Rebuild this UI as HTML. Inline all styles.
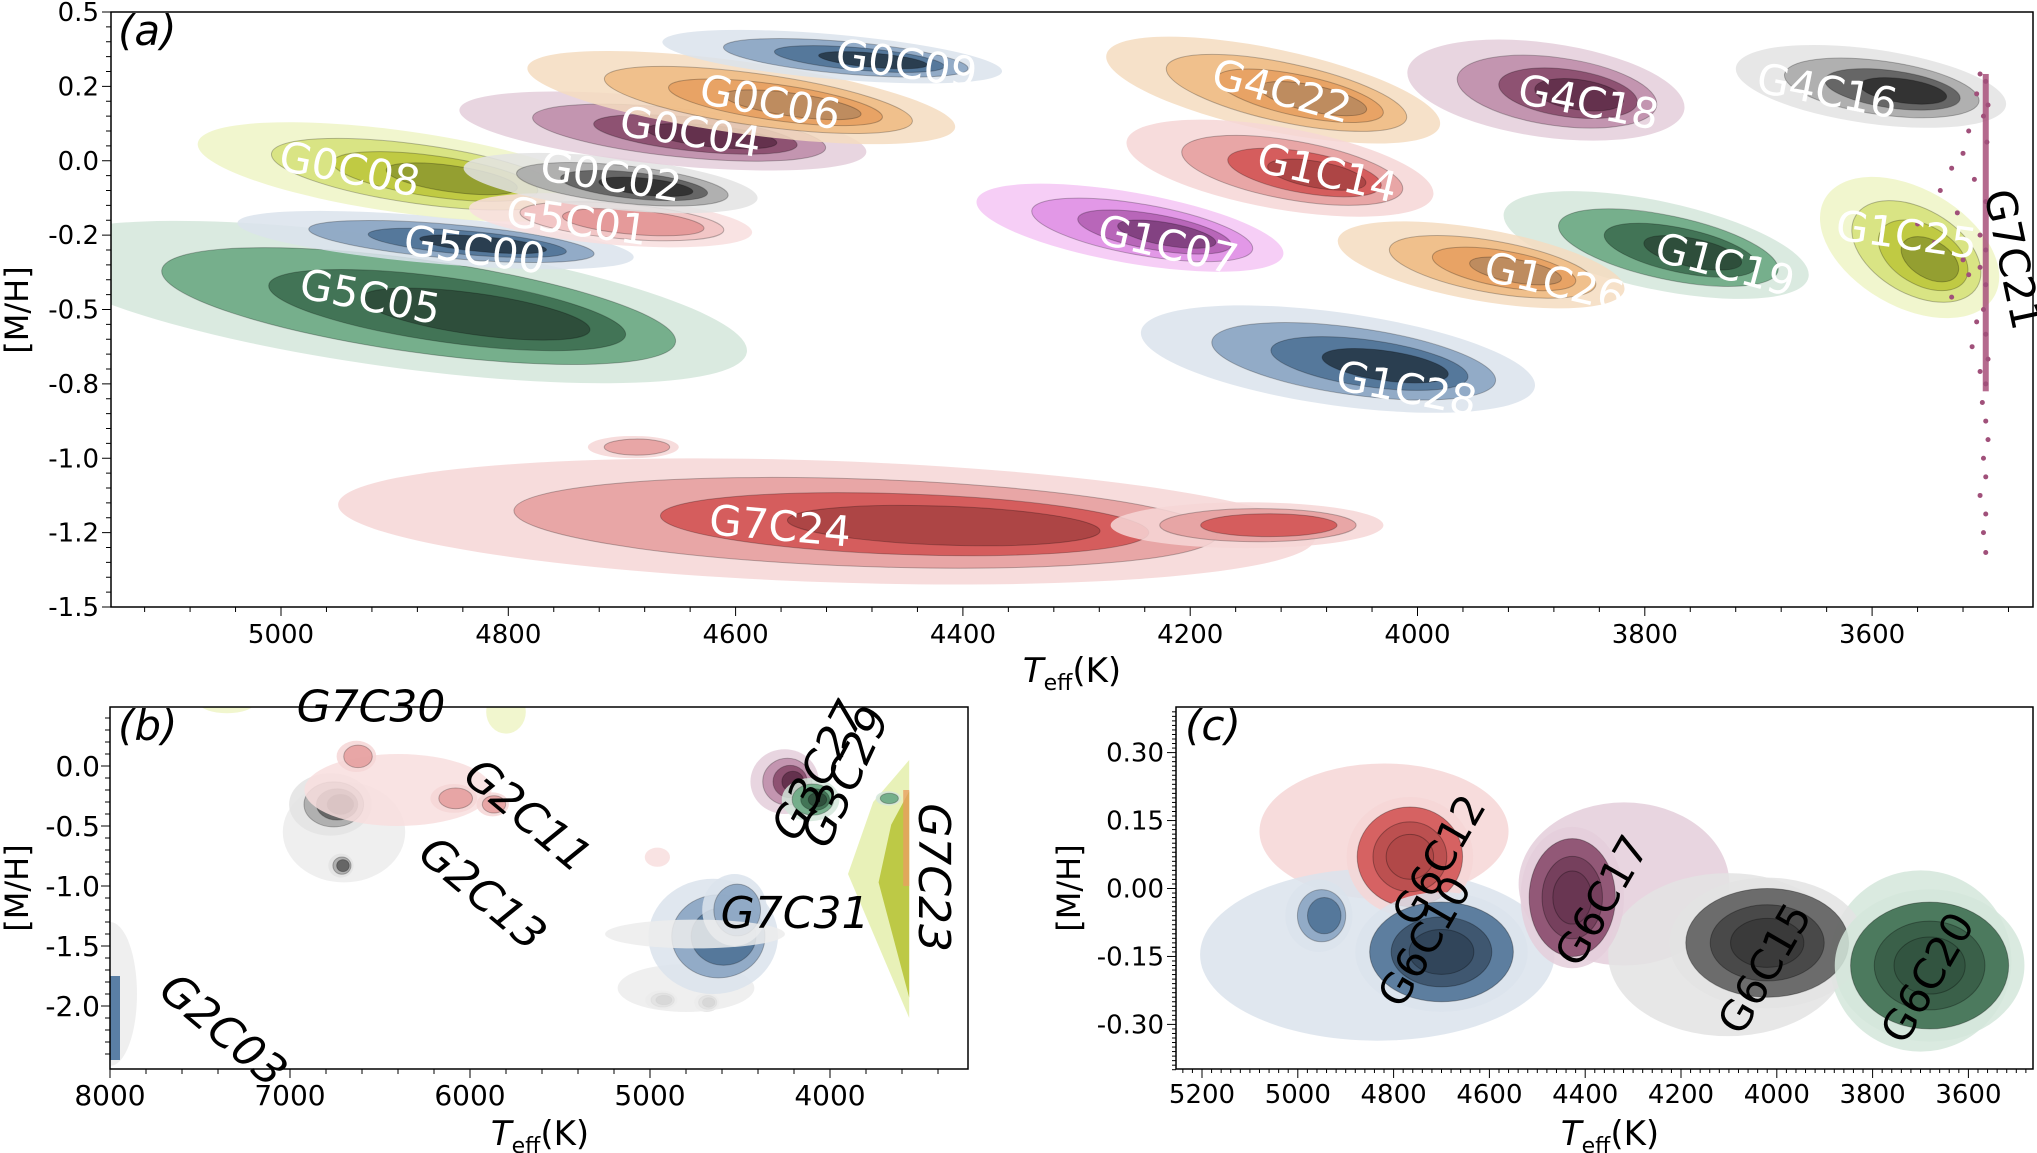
<!DOCTYPE html>
<html><head><meta charset="utf-8"><style>
body{margin:0;background:#fff;}
svg{display:block;font-family:"DejaVu Sans","Liberation Sans",sans-serif;}
</style></head><body>
<svg id="fig" width="2037" height="1153" viewBox="0 0 2037 1153" xmlns="http://www.w3.org/2000/svg">
<g id="pa"></g>
<g id="pb"></g>
<g id="pc"></g>
</svg>
<script>
// ---------- data ----------
const aXTicks=[5000,4800,4600,4400,4200,4000,3800,3600];
const aYTicks=[0.5,0.2,0.0,-0.2,-0.5,-0.8,-1.0,-1.2,-1.5];
const aNames=["G7C24","G5C05","G5C00","G0C08","G5C01","G0C02","G0C04","G0C06","G0C09","G4C22","G1C14","G1C07","G4C18","G4C16","G1C19","G1C26","G1C28","G1C25"];
const aTeff=[4520,4904,4864,4893,4710,4710,4664,4595,4515,4127,4121,4253,3887,3601,3790,3944,4070,3567];
const aMH=[-1.17,-0.47,-0.22,-0.03,-0.16,-0.06,0.08,0.17,0.32,0.19,-0.02,-0.18,0.19,0.2,-0.24,-0.32,-0.7,-0.25];
const aRx=[430,317,175,182,125,130,180,190,150,150,137,137,123,120,137,128,175,86];
const aRy=[0.19,0.26,0.08,0.11,0.07,0.07,0.09,0.11,0.09,0.13,0.11,0.11,0.15,0.12,0.15,0.14,0.17,0.2];
const aPal=["red","green","blue","yg","redl","gray","purple","orange","blue","orange","red","magenta","purple","gray","green","orange","blue","yg"];
const aAng=[2,8,5,8,5,6,6,8,5,12,10,10,8,8,12,10,8,30];
const aLabT=[4561,4922,4830,4940,4740,4710,4640,4570,4450,4120,4080,4220,3850,3640,3730,3880,4010,3570];
const aLabM=[-1.19,-0.46,-0.27,-0.03,-0.17,-0.05,0.07,0.15,0.28,0.18,-0.04,-0.25,0.15,0.18,-0.33,-0.4,-0.82,-0.21];
const a21M=[0.25,0.22,0.18,0.15,0.12,0.08,0.05,0.02,-0.02,-0.05,-0.08,-0.11,-0.14,-0.17,-0.2,-0.23,-0.26,-0.3,-0.33,-0.36,-0.4,-0.45,-0.5,-0.55,-0.6,-0.65,-0.7,-0.75,-0.8,-0.85,-0.9,-0.95,-1.0,-1.05,-1.1,-1.15,-1.2,-1.28];
const a21T=[3505,3500,3508,3498,3502,3515,3499,3520,3530,3510,3540,3500,3525,3560,3505,3545,3500,3520,3505,3515,3500,3530,3502,3508,3500,3512,3498,3505,3500,3503,3500,3498,3502,3500,3505,3500,3502,3500];

const bXTicks=[8000,7000,6000,5000,4000];
const bYTicks=[0.0,-0.5,-1.0,-1.5,-2.0];
const bTeff=[6700,6775,6717,4937,4685,4800,6400,6631,6090,5874,4959,4649,4530,4252,4108,3676,4750];
const bMH=[-0.55,-0.32,-0.83,-1.95,-1.97,-1.85,-0.2,0.08,-0.27,-0.32,-0.76,-1.42,-1.2,-0.13,-0.28,-0.27,-1.4];
const bRx=[340,230,70,90,70,380,520,110,130,90,70,360,180,190,160,70,500];
const bRy=[0.42,0.26,0.1,0.08,0.08,0.2,0.3,0.13,0.12,0.1,0.08,0.48,0.3,0.27,0.18,0.06,0.12];
const bPal=["grayl","gray","gray","gray","gray","grayl","redl","red","red","red","redl","blue","blue","purple","green","green","grayl"];
const bLev=[1,4,3,3,3,1,1,2,2,2,1,3,2,4,4,2,1];
const bNames=["G7C30","G2C11","G2C13","G2C03","G3C27","G3C29","G7C23","G7C31"];
const bLabT=[6550,5690,5940,7380,4050,3900,3440,4194];
const bLabM=[0.47,-0.43,-1.08,-2.22,-0.05,-0.1,-0.93,-1.25];
const bLabRot=[0,40,40,40,-62,-65,90,0];
const b23T=[3560,3560,3900,3760];
const b23M=[0.05,-2.1,-0.9,-0.3];

const cXTicks=[5200,5000,4800,4600,4400,4200,4000,3800,3600];
const cYTicks=[0.30,0.15,0.00,-0.15,-0.30];
const cNames=["G6C12","G6C10","G6C17","G6C15","G6C20"];
const cTeff=[4820,4834,4319,4102,3700];
const cMH=[0.126,-0.146,0.01,-0.146,-0.16];
const cRx=[260,370,220,250,190];
const cRy=[0.15,0.19,0.18,0.18,0.2];
const cPal=["red","blue","purple","gray","green"];
const cCoreT=[4766,4700,4427,4020,3681];
const cCoreM=[0.07,-0.14,-0.02,-0.12,-0.17];
const cCoreRx=[110,150,90,170,165];
const cCoreRy=[0.11,0.11,0.13,0.12,0.14];
const cLabT=[4700,4730,4360,4020,3680];
const cLabM=[0.06,-0.12,-0.03,-0.18,-0.2];

const PAL={
 green:["#d3e6db","#6aa883","#3d6e50","#2c4a38"],
 red:["#f6d6d6","#e6a0a0","#d35555","#a84242"],
 redl:["#f8dede","#f1c2c2","#e39595","#d06a6a"],
 blue:["#dbe3ec","#8aa4c2","#4f7296","#263748"],
 orange:["#f5dcc0","#f0bd85","#e7a061","#b98a5e"],
 purple:["#e4cedb","#bf8eab","#884a6c","#5f2d49"],
 gray:["#e3e3e3","#aaaaaa","#5e5e5e","#2e2e2e"],
 grayl:["#ececec","#e2e2e2","#d0d0d0","#bbbbbb"],
 yg:["#eef4c6","#d6e27c","#bcc63c","#8f9a30"],
 magenta:["#f4c6f4","#e092e6","#b460b4","#7d3e7c"]
};
const NS="http://www.w3.org/2000/svg";
function mk(tag,attrs,parent){const e=document.createElementNS(NS,tag);for(const k in attrs)e.setAttribute(k,attrs[k]);parent.appendChild(e);return e;}

const A={l:111,r:2033,t:12,b:607};
function axA(T){return 281+(5000-T)*227.3/200;}
function ayA(M){const step=(A.b-A.t)/8;
 for(let i=0;i<8;i++){const a=aYTicks[i],b=aYTicks[i+1];if(M<=a&&M>=b)return A.t+step*(i+(a-M)/(a-b));}
 if(M>aYTicks[0])return A.t-step*(M-aYTicks[0])/0.3; return A.b+step*(aYTicks[8]-M)/0.3;}
function axB(T){return 110+(8000-T)*0.18;}
function ayB(M){return 766-M*120;}
function axC(T){return 1202+(5200-T)*0.479;}
function ayC(M){return 888.5-M*453;}

function blob(g,xs,ys,T,M,rx,ry,ang,pal,levels,name){
 const cx=xs(T),cy=ys(M),px=Math.abs(xs(T+rx)-xs(T-rx))/2,py=Math.abs(ys(M-ry)-ys(M+ry))/2;
 const sc=[1,0.72,0.5,0.32];const cols=PAL[pal];
 for(let i=0;i<levels;i++){
  const e=mk("ellipse",{cx:cx+px*0.08*i,cy:cy,rx:px*sc[i],ry:py*sc[i],fill:cols[i],"fill-opacity":i==0?0.85:0.9,stroke:i>0?"rgba(0,0,0,0.25)":"none","stroke-width":1,transform:`rotate(${ang} ${cx} ${cy})`},g);
  
  
 }
}
function txt(g,x,y,s,attrs){const t=mk("text",Object.assign({x:x,y:y},attrs),g);t.textContent=s;return t;}

// ---------- panel a ----------
(function(){
 const g=document.getElementById("pa");
 const cp=mk("clipPath",{id:"ca"},g);mk("rect",{x:A.l,y:A.t,width:A.r-A.l,height:A.b-A.t},cp);
 const cg=mk("g",{"clip-path":"url(#ca)"},g);
 for(let i=0;i<aNames.length;i++){
  blob(cg,axA,ayA,aTeff[i],aMH[i],aRx[i],aRy[i],aAng[i],aPal[i],(aPal[i]=="redl"?3:4),aNames[i]);
 }
 blob(cg,axA,ayA,4150,-1.18,120,0.07,0,"red",3,"G7C24");
 blob(cg,axA,ayA,4690,-0.97,40,0.03,0,"red",2,"G7C24");
 const s=mk("rect",{x:axA(3500)-3,y:ayA(0.25),width:6,height:ayA(-0.82)-ayA(0.25),fill:"#a8507a","fill-opacity":0.85},cg);
 
 for(let i=0;i<a21M.length;i++){const d=mk("circle",{cx:axA(a21T[i]),cy:ayA(a21M[i]),r:2.5,fill:"#a0507a"},cg);
  }
 for(let i=0;i<aNames.length;i++){
  const t=txt(g,axA(aLabT[i]),ayA(aLabM[i]),aNames[i],{fill:"#fff","font-size":42,"text-anchor":"middle","dominant-baseline":"middle",transform:`rotate(${aAng[i]==30?8:aAng[i]+3} ${axA(aLabT[i])} ${ayA(aLabM[i])})`});
  
 }
 const l21=txt(g,2010,ayA(-0.3),"G7C21",{fill:"#000","font-size":42,"text-anchor":"middle","dominant-baseline":"middle",transform:`rotate(78 2010 ${ayA(-0.3)})`});
 
 const fr=mk("rect",{x:A.l,y:A.t,width:A.r-A.l,height:A.b-A.t,fill:"none",stroke:"#000","stroke-width":1.5},g);
 
 for(let T=5120;T>=3480;T-=40){mk("line",{x1:axA(T),x2:axA(T),y1:A.b,y2:A.b+(T%200==0?9:5),stroke:"#000"},g);}
 aXTicks.forEach(T=>{const t=txt(g,axA(T),A.b+36,String(T),{"font-size":26,"text-anchor":"middle"});});
 const st=(A.b-A.t)/8;
 for(let k=0;k<=40;k++){const y=A.t+k*st/5;mk("line",{x1:A.l,x2:A.l-(k%5==0?9:5),y1:y,y2:y,stroke:"#000"},g);}
 aYTicks.forEach((v,i)=>{const t=txt(g,A.l-12,A.t+i*st+9,v.toFixed(1),{"font-size":26,"text-anchor":"end"});});
 const pl=txt(g,118,45,"(a)",{"font-size":42,"font-style":"italic"});
 const yl=txt(g,28,310,"[M/H]",{"font-size":32,"text-anchor":"middle",transform:"rotate(-90 28 310)"});
 const xl=txt(g,1072,682,"",{"font-size":34,"text-anchor":"middle"});xl.innerHTML='<tspan font-style="italic">T</tspan><tspan font-size="22" dy="8">eff</tspan><tspan dy="-8">(K)</tspan>';
 
})();

// ---------- panel b ----------
(function(){
 const g=document.getElementById("pb");const L=110,R=968,T0=707,B=1069;
 const cp=mk("clipPath",{id:"cb"},g);mk("rect",{x:L,y:T0,width:R-L,height:B-T0},cp);
 const cg=mk("g",{"clip-path":"url(#cb)"},g);
 blob(cg,axB,ayB,7350,0.52,150,0.08,0,"yg",1,"G7C30");
 blob(cg,axB,ayB,5800,0.45,110,0.18,0,"yg",1,"G7C30");
 blob(cg,axB,ayB,8000,-1.9,150,0.6,0,"grayl",1,"G2C03");
 const st=mk("rect",{x:L,y:ayB(-1.75),width:10,height:ayB(-2.45)-ayB(-1.75),fill:"#5a7fa5"},cg);
 
 const pts=b23T.map((T,i)=>axB(T)+","+ayB(b23M[i])).join(" ");
 const p1=mk("polygon",{points:pts,fill:"#e6efb0","fill-opacity":0.9},cg);
 const pts2=b23T.map((T,i)=>axB(T+(3560-T)*0.5)+","+ayB(b23M[i]*0.8-0.25)).join(" ");
 const p2=mk("polygon",{points:pts2,fill:"#b8c43a","fill-opacity":0.9},cg);
 const or=mk("rect",{x:axB(3560)-6,y:ayB(-0.2),width:6,height:ayB(-1.0)-ayB(-0.2),fill:"#e8a060","fill-opacity":0.8},cg);
 for(let i=0;i<bTeff.length;i++)blob(cg,axB,ayB,bTeff[i],bMH[i],bRx[i],bRy[i],0,bPal[i],bLev[i],"b-cluster");
 bNames.forEach((n,i)=>{const x=axB(bLabT[i]),y=ayB(bLabM[i]);const t=txt(g,x,y,n,{"font-size":44,"text-anchor":"middle","dominant-baseline":"middle",transform:`rotate(${bLabRot[i]} ${x} ${y})`,"font-style":"italic"});});
 const fr=mk("rect",{x:L,y:T0,width:R-L,height:B-T0,fill:"none",stroke:"#000","stroke-width":1.5},g);
 for(let T=8000;T>=3300;T-=200)mk("line",{x1:axB(T),x2:axB(T),y1:B,y2:B+(T%1000==0?9:5),stroke:"#000"},g);
 bXTicks.forEach(T=>{const t=txt(g,axB(T),B+36,String(T),{"font-size":28,"text-anchor":"middle"});});
 for(let M=0.4;M>=-2.5;M-=0.1){const y=ayB(M);const maj=Math.abs(Math.round(M*2)-M*2)<0.01;mk("line",{x1:L,x2:L-(maj?9:5),y1:y,y2:y,stroke:"#000"},g);}
 bYTicks.forEach(v=>{const t=txt(g,L-10,ayB(v)+10,v.toFixed(1),{"font-size":28,"text-anchor":"end"});});
 const pl=txt(g,118,740,"(b)",{"font-size":42,"font-style":"italic"});
 const yl=txt(g,28,888,"[M/H]",{"font-size":32,"text-anchor":"middle",transform:"rotate(-90 28 888)"});
 const xl=txt(g,540,1145,"",{"font-size":34,"text-anchor":"middle"});xl.innerHTML='<tspan font-style="italic">T</tspan><tspan font-size="22" dy="8">eff</tspan><tspan dy="-8">(K)</tspan>';
})();

// ---------- panel c ----------
(function(){
 const g=document.getElementById("pc");const L=1176,R=2033,T0=707,B=1069;
 const cp=mk("clipPath",{id:"cc"},g);mk("rect",{x:L,y:T0,width:R-L,height:B-T0},cp);
 const cg=mk("g",{"clip-path":"url(#cc)"},g);
 for(let i=0;i<cNames.length;i++){
  blob(cg,axC,ayC,cTeff[i],cMH[i],cRx[i],cRy[i],0,cPal[i],1,cNames[i]);
 }
 for(let i=0;i<cNames.length;i++){
  blob(cg,axC,ayC,cCoreT[i],cCoreM[i],cCoreRx[i]*1.2,cCoreRy[i]*1.2,0,cPal[i],1,cNames[i]);
  const cx=axC(cCoreT[i]),cy=ayC(cCoreM[i]);const cols=PAL[cPal[i]];
  [[1,2],[0.7,3],[0.45,3]].forEach(([s,c],k)=>{const e=mk("ellipse",{cx:cx,cy:cy,rx:Math.abs(axC(cCoreT[i]+cCoreRx[i])-cx)*s,ry:Math.abs(ayC(cCoreM[i]+cCoreRy[i])-cy)*s,fill:cols[c],"fill-opacity":k==0?0.9:0.55,stroke:"rgba(0,0,0,0.3)"},cg);
   });
 }
 blob(cg,axC,ayC,4956,-0.06,70,0.08,0,"blue",3,"G6C10");
 cNames.forEach((n,i)=>{const x=axC(cLabT[i]),y=ayC(cLabM[i]);const t=txt(g,x,y,n,{"font-size":42,"text-anchor":"middle","dominant-baseline":"middle",transform:`rotate(-60 ${x} ${y})`});});
 const fr=mk("rect",{x:L,y:T0,width:R-L,height:B-T0,fill:"none",stroke:"#000","stroke-width":1.5},g);
 for(let T=5240;T>=3480;T-=20)mk("line",{x1:axC(T),x2:axC(T),y1:B,y2:B+(T%200==0?9:4),stroke:"#000"},g);
 cXTicks.forEach(T=>{const t=txt(g,axC(T),B+34,String(T),{"font-size":26,"text-anchor":"middle"});});
 for(let k=-40;k<=39;k++){const M=k*0.01;const y=ayC(M);mk("line",{x1:L,x2:L-(k%15==0?9:4),y1:y,y2:y,stroke:"#000"},g);}
 cYTicks.forEach(v=>{const t=txt(g,L-12,ayC(v)+9,v.toFixed(2),{"font-size":26,"text-anchor":"end"});});
 const pl=txt(g,1185,740,"(c)",{"font-size":42,"font-style":"italic"});
 const yl=txt(g,1080,888,"[M/H]",{"font-size":32,"text-anchor":"middle",transform:"rotate(-90 1080 888)"});
 const xl=txt(g,1610,1145,"",{"font-size":34,"text-anchor":"middle"});xl.innerHTML='<tspan font-style="italic">T</tspan><tspan font-size="22" dy="8">eff</tspan><tspan dy="-8">(K)</tspan>';
})();
</script>
</body></html>
